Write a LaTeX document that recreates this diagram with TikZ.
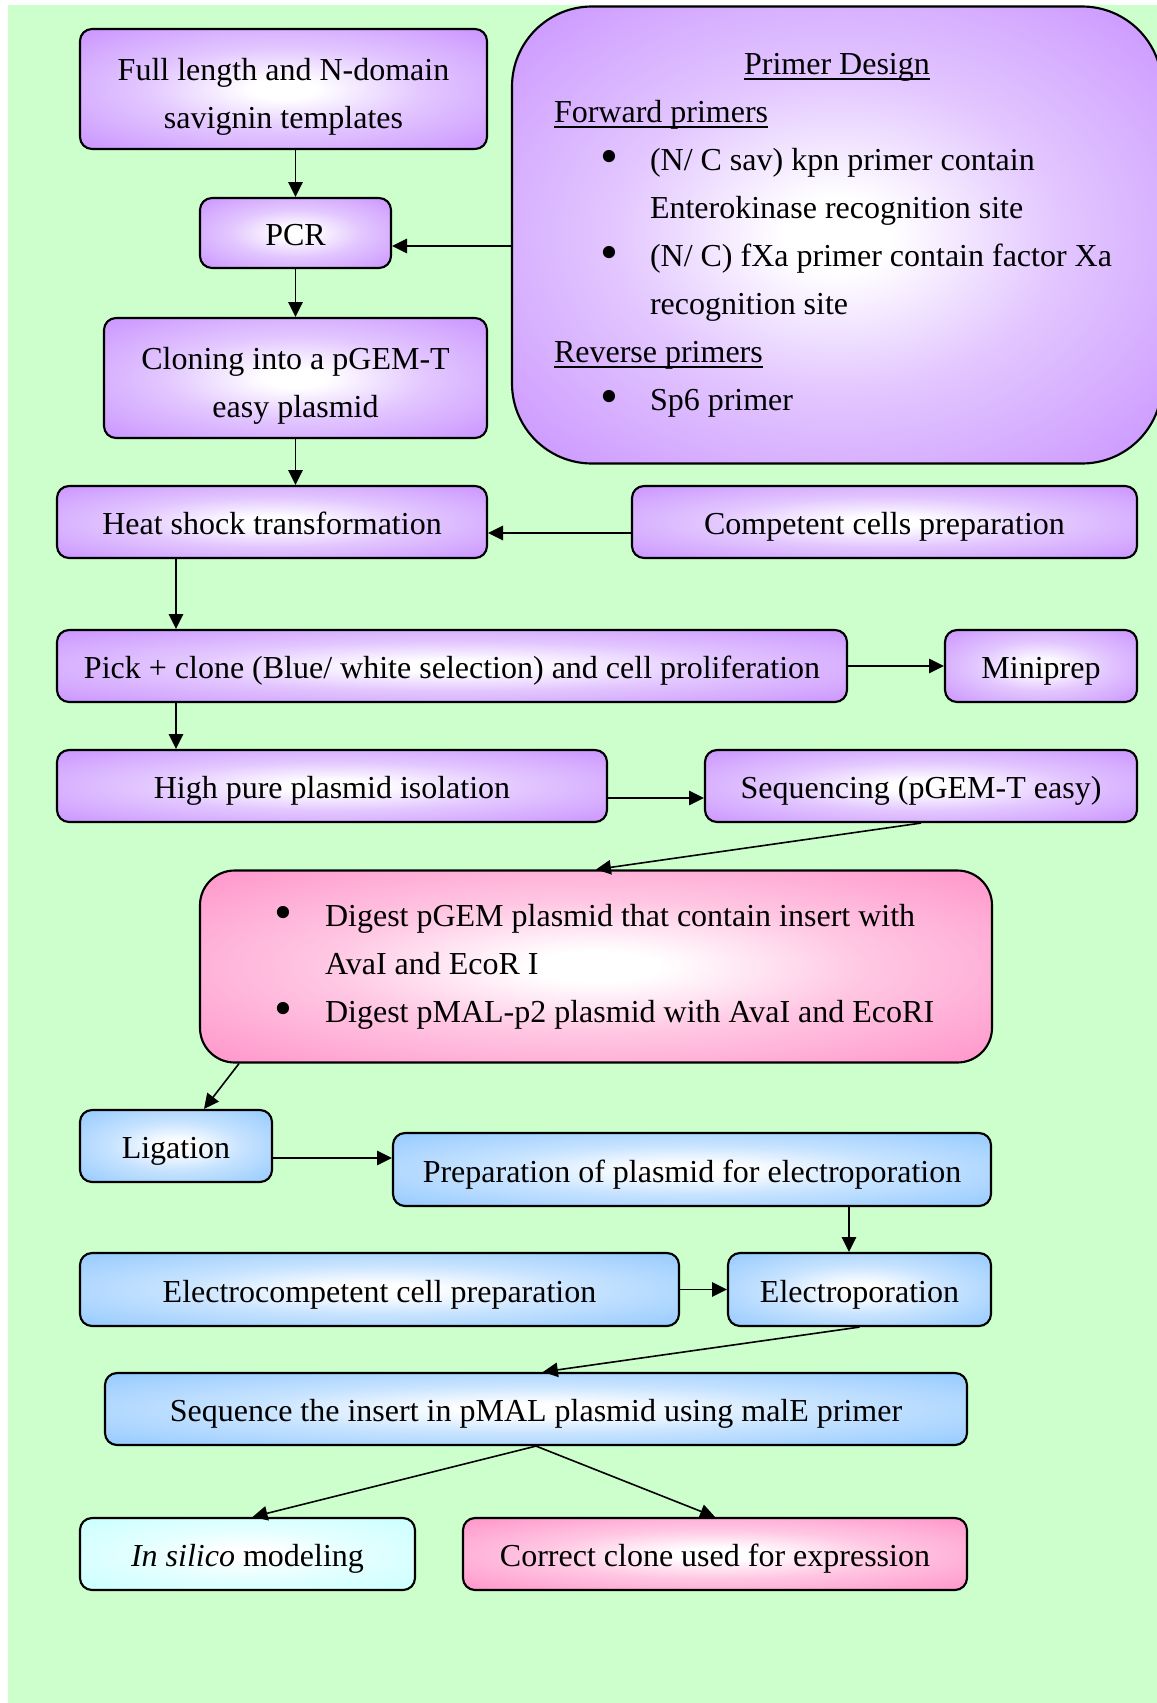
\documentclass[tikz,border=0pt]{standalone}
\usepackage{fontspec}
\setmainfont{Liberation Serif}
\usetikzlibrary{arrows.meta}

\definecolor{bggreen}{HTML}{CCFFCC}
\definecolor{lilac}{HTML}{CC99FF}
\definecolor{rose}{HTML}{FF99CC}
\definecolor{sky}{HTML}{99CCFF}
\definecolor{ice}{HTML}{CCFFFF}

% underline at a fixed depth below the baseline
\newsavebox{\undlbox}
\newcommand{\undl}[1]{\leavevmode\sbox{\undlbox}{#1}%
  \rlap{\rule[-2pt]{\wd\undlbox}{0.6pt}}\usebox{\undlbox}}

% a larger list bullet
\newcommand{\bigbullet}{\raisebox{-1.4pt}{\scalebox{1.6}{\textbullet}}}
\newcommand{\bulletline}[3]{\hspace*{#1}\makebox[#2][l]{\bigbullet}#3\par}

% two centred lines, 18pt apart, referenced to the first baseline
\newcommand{\twolines}[2]{\begin{tabular}[t]{@{}c@{}}#1\\#2\end{tabular}}

% white centre fading into the box colour towards the edges
\newcommand{\glowshading}[2]{%
  \pgfdeclareradialshading{#1}{\pgfpoint{0bp}{0bp}}{%
    color(0bp)=(white); color(4bp)=(white); color(17bp)=(#2!55!white);
    color(34bp)=(#2); color(71bp)=(#2)}}
\glowshading{glowlilac}{lilac}
\glowshading{glowrose}{rose}
\glowshading{glowsky}{sky}
\glowshading{glowice}{ice}

\tikzset{
  stage/.style={draw=black, line width=0.8pt, rounded corners=4.5pt,
    inner sep=0pt, font=\fontsize{12pt}{18pt}\selectfont, shade},
  oneline/.style={text height=12.5pt, text depth=3pt},
  twoline/.style={text height=12.6pt, text depth=19.2pt},
  lilacbox/.style={stage, shading=glowlilac},
  rosebox/.style={stage, shading=glowrose},
  skybox/.style={stage, shading=glowsky},
  icebox/.style={stage, shading=glowice},
  sz/.style 2 args={minimum width={#1*0.375pt}, minimum height={#2*0.375pt}},
  arr/.style={-{Triangle[length=5.6pt,width=5.4pt]}, line width=0.6pt},
}

\begin{document}
\begin{tikzpicture}[x=0.375pt, y=-0.375pt]
  \useasboundingbox (0,0) rectangle (1157,1703);
  \fill[bggreen] (8,5) rectangle (1157,1703);

  % cloning into pGEM-T
  \node[lilacbox, twoline, sz={407}{120}] (tmpl) at (283.5,89) {\twolines{Full length and N-domain}{savignin templates}};
  \node[lilacbox, oneline, sz={191}{70}] (pcr) at (295.5,233) {PCR};
  \node[lilacbox, twoline, sz={383}{120}] (clon) at (295.5,378) {\twolines{Cloning into a pGEM-T}{easy plasmid}};

  \node[lilacbox, rounded corners=30pt, sz={650}{457}] (primer) at (837,235) {%
    \begin{minipage}{243.75pt}
      \fontsize{12pt}{18pt}\selectfont
      \centering\undl{Primer Design}\par
      \raggedright
      \hspace*{15.75pt}\undl{Forward primers}\par
      \bulletline{33pt}{18.75pt}{(N/ C sav) kpn primer contain}
      \hspace*{51.75pt}Enterokinase recognition site\par
      \bulletline{33pt}{18.75pt}{(N/ C) fXa primer contain factor Xa}
      \hspace*{51.75pt}recognition site\par
      \hspace*{15.75pt}\undl{Reverse primers}\par
      \bulletline{33pt}{18.75pt}{Sp6 primer}
    \end{minipage}};

  % transformation and selection
  \node[lilacbox, oneline, sz={430}{72}] (heat) at (272,522) {Heat shock transformation};
  \node[lilacbox, oneline, sz={505}{72}] (comp) at (884.5,522) {Competent cells preparation};
  \node[lilacbox, oneline, sz={790}{72}] (pick) at (452,666) {Pick + clone (Blue/ white selection) and cell proliferation};
  \node[lilacbox, oneline, sz={192}{72}] (mini) at (1041,666) {Miniprep};
  \node[lilacbox, oneline, sz={550}{72}] (high) at (332,786) {High pure plasmid isolation};
  \node[lilacbox, oneline, sz={432}{72}] (seqg) at (921,786) {Sequencing (pGEM-T easy)};

  % subcloning into pMAL-p2
  \node[rosebox, rounded corners=13pt, sz={792}{192}] (digest) at (596,966.5) {%
    \begin{minipage}{297pt}
      \fontsize{12pt}{18pt}\selectfont\raggedright
      \bulletline{28pt}{18.9pt}{Digest pGEM plasmid that contain insert with}
      \hspace*{46.9pt}AvaI and EcoR I\par
      \bulletline{28pt}{18.9pt}{Digest pMAL-p2 plasmid with AvaI and EcoRI}
    \end{minipage}};

  \node[skybox, oneline, sz={192}{72}] (lig) at (176,1146) {Ligation};
  \node[skybox, oneline, sz={598}{73}] (prep) at (692,1169.5) {Preparation of plasmid for electroporation};
  \node[skybox, oneline, sz={599}{73}] (ecomp) at (379.5,1289.5) {Electrocompetent cell preparation};
  \node[skybox, oneline, sz={263}{73}] (elec) at (859.5,1289.5) {Electroporation};
  \node[skybox, oneline, sz={862}{72}] (seqm) at (536,1409) {Sequence the insert in pMAL plasmid using malE primer};

  \node[icebox, oneline, sz={335}{72}] (insil) at (247.5,1554) {\textit{In silico} modeling};
  \node[rosebox, oneline, sz={504}{72}] (corr) at (715,1554) {Correct clone used for expression};

  % lanes for connectors that leave a box off its centre
  \coordinate (laneA) at (176,0);
  \coordinate (laneB) at (0,798);
  \coordinate (laneC) at (0,1158);
  \coordinate (laneD) at (849,0);
  \coordinate (laneE) at (0,246);
  \coordinate (laneF) at (0,533);
  \coordinate (digOut) at (239,0);
  \coordinate (ligIn) at (204,0);

  \draw[arr] (tmpl.south -| pcr.north) -- (pcr.north);
  \draw[arr] (pcr.south) -- (clon.north);
  \draw[arr] (primer.west |- laneE) -- (pcr.east |- laneE);
  \draw[arr] (clon.south) -- (clon.south |- heat.north);
  \draw[arr] (comp.west |- laneF) -- (heat.east |- laneF);
  \draw[arr] (heat.south -| laneA) -- (pick.north -| laneA);
  \draw[arr] (pick.east) -- (mini.west);
  \draw[arr] (pick.south -| laneA) -- (high.north -| laneA);
  \draw[arr] (high.east |- laneB) -- (seqg.west |- laneB);
  \draw[arr] (seqg.south) -- (digest.north);
  \draw[arr] (digest.south -| digOut) -- (lig.north -| ligIn);
  \draw[arr] (lig.east |- laneC) -- (prep.west |- laneC);
  \draw[arr] (prep.south -| laneD) -- (elec.north -| laneD);
  \draw[arr] (ecomp.east) -- (elec.west);
  \draw[arr] (elec.south) -- ([xshift=2.6pt]seqm.north);
  \draw[arr] (seqm.south) -- ([xshift=1.9pt]insil.north);
  \draw[arr] (seqm.south) -- (corr.north);
\end{tikzpicture}
\end{document}
